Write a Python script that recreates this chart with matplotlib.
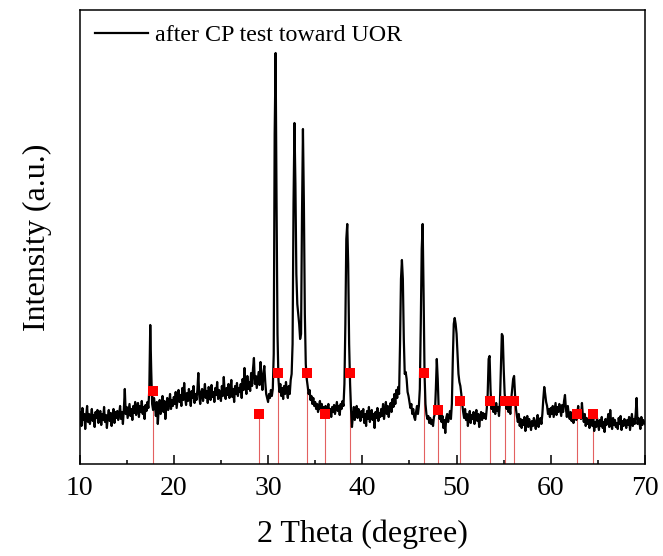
import numpy as np
import matplotlib
matplotlib.use('Agg')
import matplotlib.pyplot as plt

plt.rcParams['font.family'] = ['Liberation Serif', 'DejaVu Serif']

# scan grid, 0.1 degree steps from 10 to 70
two_theta = np.round(np.arange(10.0, 70.05, 0.1), 1)

# intensity (arbitrary units), one row per degree
intensity = [
    45, 52, 38, 56, 44, 50, 35, 48, 58, 42,
    50, 40, 47, 55, 43, 49, 37, 52, 46, 54,
    41, 48, 53, 39, 50, 44, 57, 42, 49, 36,
    47, 54, 43, 51, 38, 49, 55, 41, 52, 46,
    53, 44, 50, 58, 45, 52, 40, 55, 75, 50,
    57, 46, 53, 60, 48, 55, 44, 58, 51, 62,
    49, 56, 61, 47, 58, 52, 63, 50, 57, 45,
    59, 53, 62, 56, 75, 139, 95, 60, 54, 66,
    58, 48, 62, 40, 55, 64, 50, 60, 68, 52,
    63, 45, 57, 66, 54, 61, 70, 55, 64, 58,
    67, 60, 72, 56, 65, 74, 62, 69, 58, 76,
    64, 81, 66, 59, 71, 63, 75, 67, 58, 73,
    66, 78, 61, 70, 64, 74, 91, 68, 60, 72,
    75, 63, 70, 80, 66, 73, 61, 77, 69, 64,
    79, 67, 72, 62, 76, 69, 82, 65, 74, 70,
    63, 78, 68, 87, 71, 65, 76, 69, 80, 66,
    73, 84, 67, 75, 62, 78, 70, 81, 68, 76,
    72, 80, 66, 85, 74, 96, 78, 70, 88, 75,
    82, 73, 91, 78, 95, 106, 80, 88, 76, 84,
    92, 79, 102, 86, 74, 90, 98, 82, 70, 66,
    62, 70, 66, 74, 68, 75, 110, 330, 411, 260,
    130, 85, 72, 80, 68, 76, 65, 78, 70, 82,
    72, 66, 78, 70, 84, 90, 120, 260, 341, 280,
    190, 160, 150, 140, 125, 130, 250, 335, 260, 150,
    100, 85, 78, 70, 74, 64, 68, 60, 66, 58,
    62, 55, 60, 52, 58, 63, 54, 60, 50, 57,
    53, 58, 48, 56, 60, 51, 55, 47, 57, 52,
    59, 50, 56, 62, 53, 58, 49, 60, 55, 63,
    58, 80, 140, 225, 240, 200, 120, 80, 55, 37,
    48, 57, 44, 52, 58, 46, 55, 50, 43, 53,
    47, 55, 41, 50, 38, 53, 45, 57, 42, 49,
    54, 44, 50, 36, 52, 46, 56, 43, 51, 47,
    55, 48, 60, 45, 53, 62, 50, 58, 47, 56,
    61, 52, 65, 57, 70, 60, 74, 66, 77, 70,
    120, 185, 204, 185, 125, 90, 92, 85, 72, 68,
    62, 56, 60, 50, 55, 47, 44, 52, 58, 50,
    58, 75, 140, 215, 240, 170, 90, 60, 50, 45,
    48, 41, 46, 40, 44, 38, 47, 50, 75, 105,
    85, 55, 45, 50, 42, 48, 36, 44, 31, 46,
    50, 42, 47, 53, 45, 60, 105, 140, 146, 140,
    130, 110, 90, 82, 78, 70, 60, 52, 46, 55,
    44, 50, 38, 47, 53, 41, 49, 45, 52, 40,
    48, 54, 43, 50, 37, 47, 52, 44, 51, 46,
    50, 45, 55, 70, 105, 108, 75, 55, 60, 52,
    58, 50, 61, 53, 57, 48, 62, 95, 130, 128,
    95, 70, 62, 55, 60, 52, 58, 50, 65, 75,
    85, 88, 70, 55, 48, 42, 50, 38, 45, 36,
    44, 39, 47, 33, 42, 48, 37, 45, 40, 34,
    43, 38, 46, 41, 35, 44, 49, 37, 42, 46,
    40, 50, 65, 77, 70, 62, 58, 50, 55, 47,
    56, 50, 58, 47, 54, 61, 49, 57, 52, 60,
    54, 48, 59, 52, 63, 69, 55, 47, 58, 50,
    45, 52, 43, 49, 41, 47, 53, 44, 50, 58,
    46, 52, 45, 61, 48, 42, 50, 38, 46, 40,
    44, 36, 47, 41, 38, 45, 33, 42, 37, 46,
    40, 34, 44, 38, 47, 36, 42, 32, 45, 39,
    43, 50, 37, 54, 41, 35, 46, 39, 44, 37,
    41, 35, 46, 40, 48, 34, 43, 38, 45, 41,
    36, 44, 39, 47, 34, 42, 50, 38, 45, 40,
    50, 66, 40, 46, 41, 35, 47, 39, 44, 42,
    40,
]

# reference pattern lines (position, stick height)
ref_pos = [17.77, 29.09, 31.03, 34.10, 36.05, 38.70, 46.55,
           48.07, 50.40, 53.50, 55.17, 56.06, 62.77, 64.43]
ref_height = [73, 50, 91, 91, 50, 91, 91,
              54, 63, 63, 63, 63, 50, 50]

fig = plt.figure(figsize=(6.63, 5.56), dpi=100)
ax = fig.add_axes([0.12, 0.1655, 0.853, 0.8165])

ax.plot(two_theta, intensity, color='black', lw=1.6,
        label='after CP test toward UOR', zorder=3)

ax.vlines(ref_pos, 0, ref_height, color='#e36060', lw=0.8, zorder=2)
ax.plot(ref_pos, ref_height, 's', color='#ff0000', ms=7.5, mew=0, zorder=4)

ax.set_xlim(10, 70)
ax.set_ylim(0, 454)
ax.set_xticks(range(10, 71, 10))
ax.set_xticks(range(15, 70, 10), minor=True)
ax.set_yticks([])
ax.tick_params(axis='x', which='major', direction='in', length=6.5,
               width=1.1, labelsize=20, pad=9)
ax.tick_params(axis='x', which='minor', direction='in', length=3, width=1.1)
for s in ax.spines.values():
    s.set_linewidth(1.1)

ax.set_xlabel('2 Theta (degree)', fontsize=23, labelpad=13)
ax.set_ylabel('Intensity (a.u.)', fontsize=23, labelpad=20)

ax.legend(loc='upper left', bbox_to_anchor=(0.027, 0.968), frameon=False,
          fontsize=17.3, handlelength=2.2, handletextpad=0.3,
          borderpad=0, borderaxespad=0)

fig.savefig('out.png', dpi=100)
